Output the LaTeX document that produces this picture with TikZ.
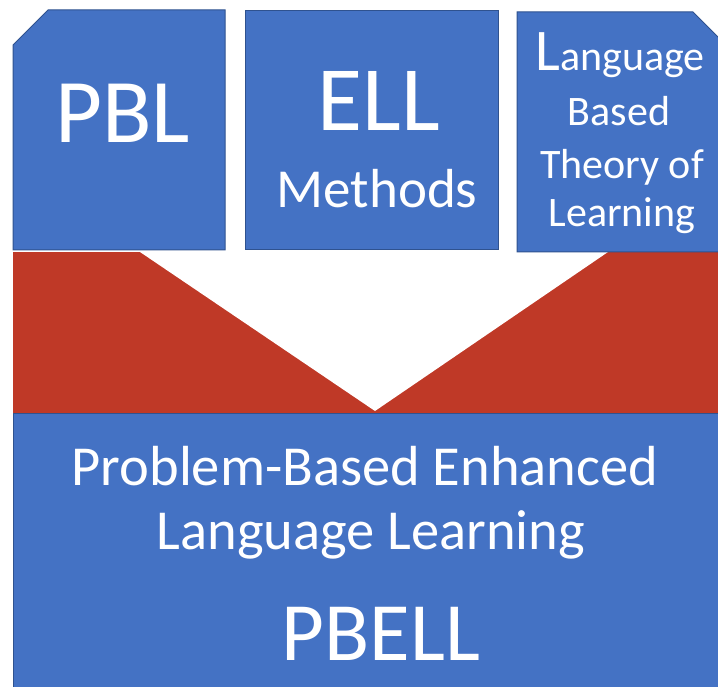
\documentclass[tikz,border=0pt]{standalone}
\usepackage{fontspec}
\setmainfont{Carlito}
\definecolor{boxblue}{HTML}{4472C4}
\definecolor{boxedge}{HTML}{2F528F}
\definecolor{bandred}{HTML}{BF3927}
\begin{document}
\begin{tikzpicture}[x=1pt,y=-1pt,
  blockshape/.style={fill=boxblue,draw=boxedge,line width=1pt},
  label/.style={text=white,inner sep=0pt,anchor=base,align=center},
]
\useasboundingbox (0,0) rectangle (718,687);
\clip (0,0) rectangle (718,687);

% red band and the white arrow cut into it
\fill[bandred] (13,252) rectangle (740,413);
\fill[white] (140,252) -- (608,252) -- (375,411) -- cycle;

% bottom block
\draw[blockshape] (13,413) rectangle (740,700);

% three source blocks
\draw[blockshape] (13,250) -- (13,45) -- (48,10) -- (225,10) -- (225,250) -- cycle;
\draw[blockshape] (245,11) rectangle (498,250);
\draw[blockshape] (517,252) -- (517,12) -- (693,12) -- (728,47) -- (728,252) -- cycle;

% texts
\node[label,font=\fontsize{91}{91}\selectfont] (pbl) at (122.5,143) {PBL};
\node[label,font=\fontsize{92}{92}\selectfont] (ell) at (379,131) {ELL};
\node[label,font=\fontsize{55}{55}\selectfont] (meth) at (377,208) {Methods};

\node[label,font=\fontsize{42}{42}\selectfont] (lang) at (620,71) {{\fontsize{59}{59}\selectfont L}anguage};
\node[label,font=\fontsize{42}{42}\selectfont] (based) at (619,126) {Based};
\node[label,font=\fontsize{42}{42}\selectfont] (theory) at (622,179) {Theory of};
\node[label,font=\fontsize{42}{42}\selectfont] (learn) at (622,227) {Learning};

\node[label,font=\fontsize{56.5}{56.5}\selectfont] (pbe) at (365,485) {Problem-Based Enhanced};
\node[label,font=\fontsize{56.5}{56.5}\selectfont] (ll) at (371,549) {Language Learning};
\node[label,font=\fontsize{83}{83}\selectfont] (pbell) at (381,660) {PBELL};
\end{tikzpicture}
\end{document}
